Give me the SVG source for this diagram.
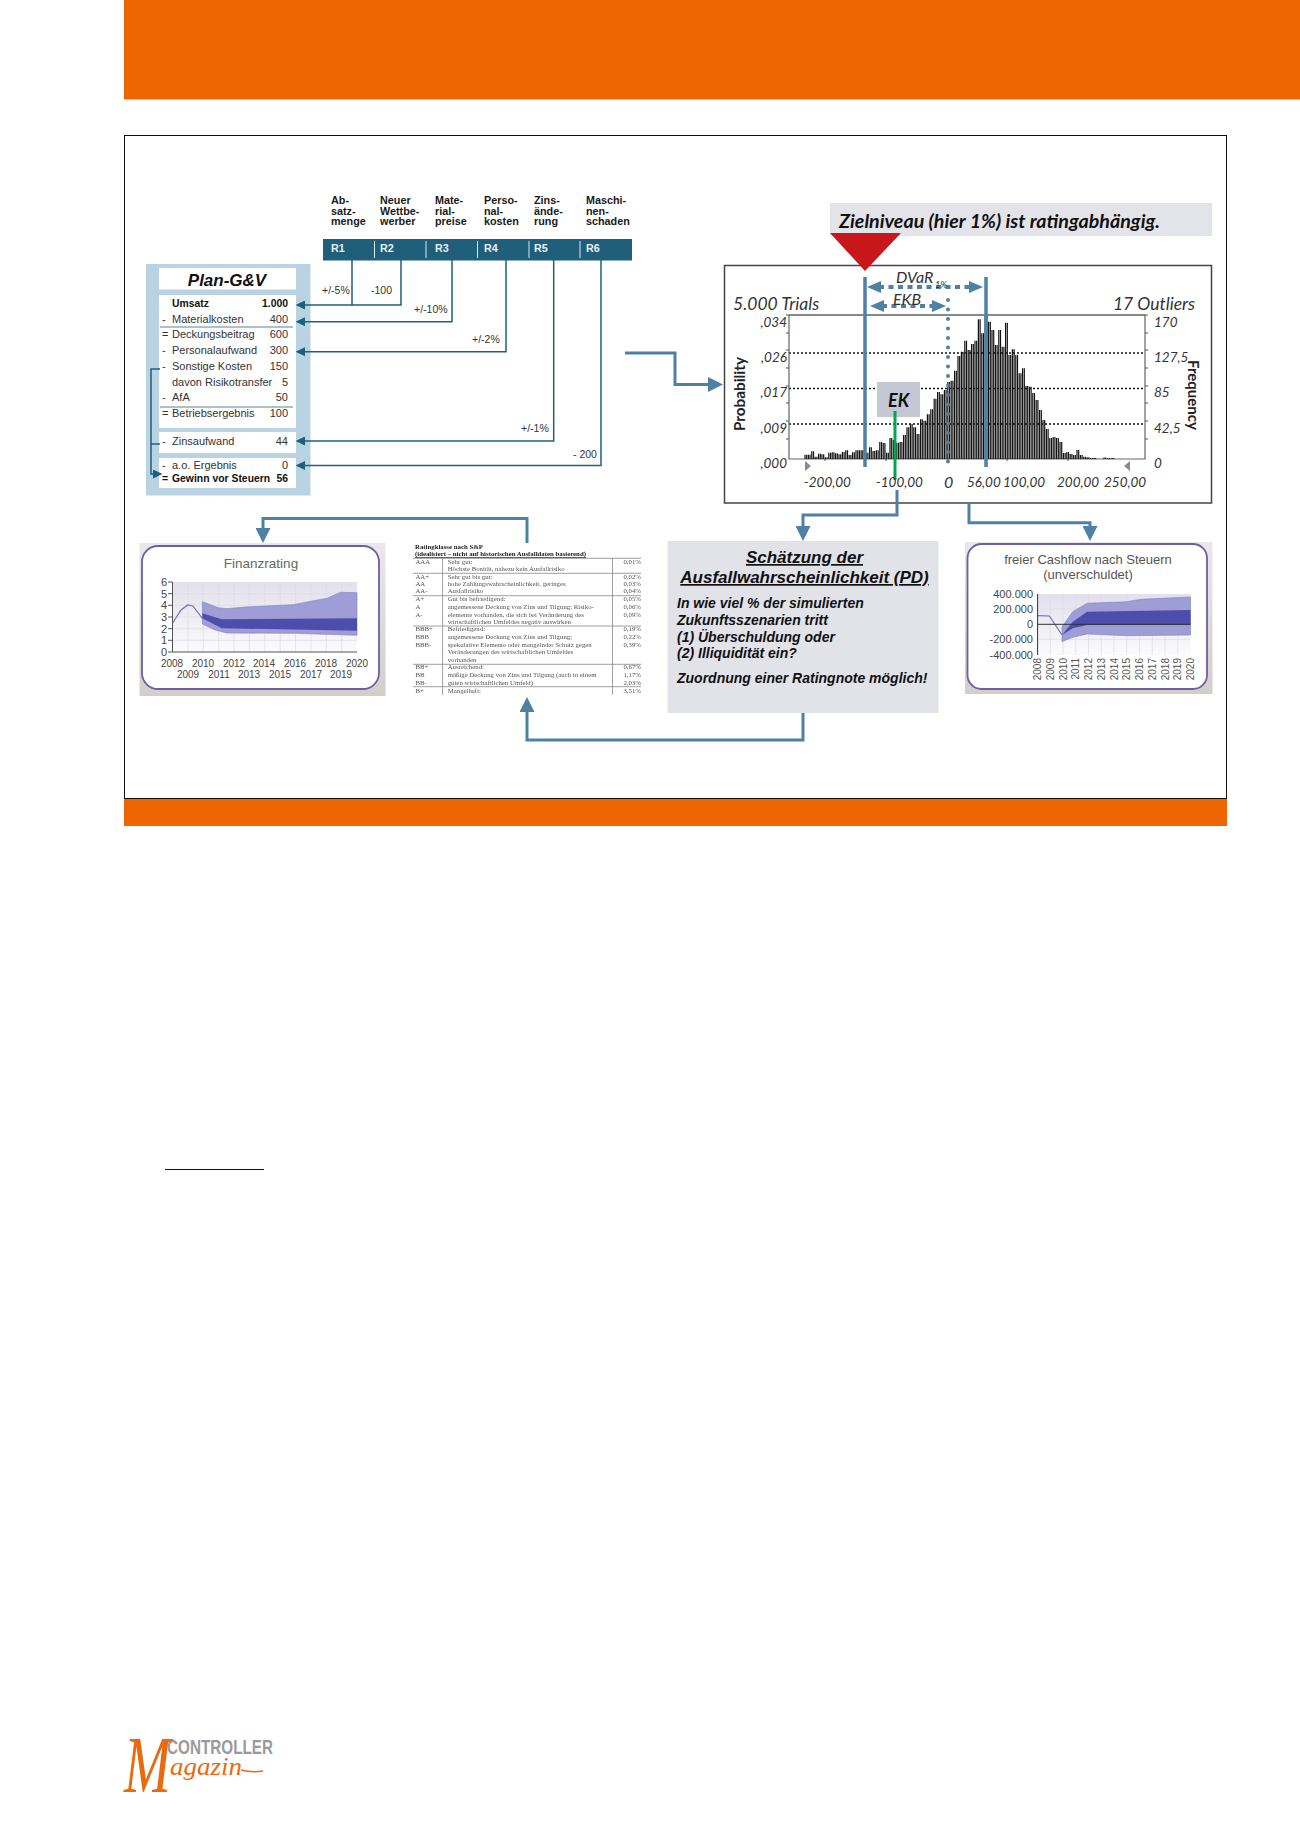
<svg xmlns="http://www.w3.org/2000/svg" xmlns:xlink="http://www.w3.org/1999/xlink" width="1300" height="1839" viewBox="0 0 1300 1839">
<style>
text{font-family:"Liberation Sans",Arial,sans-serif}
text.lt{font-family:Lato,"Liberation Sans",sans-serif}
text.se{font-family:"Liberation Serif",serif}
.hd{font-size:10.8px;font-weight:bold;fill:#1a1a1a}
.r{font-size:10.8px;font-weight:bold;fill:#e8f0f4}
.t{font-size:11px;fill:#333}
.tb{font-size:10.4px;font-weight:bold;fill:#111}
.e{text-anchor:end}
.pct{font-size:10.5px;fill:#333}
.pl{fill:none;stroke:#1f6079;stroke-width:1.5}
.bl{fill:none;stroke:#4f81a5;stroke-width:3}
text.c{font-family:Lato,"Liberation Sans",sans-serif;font-style:italic;fill:#333;font-size:13.5px}
.pd{font-size:14px;font-weight:bold;font-style:italic;fill:#111}
.pdt{font-size:17px;font-weight:bold;font-style:italic;fill:#111;text-anchor:middle;text-decoration:underline}
text.tt{font-family:"Liberation Serif",serif;font-size:6.8px;fill:#555}
text.ttb{font-family:"Liberation Serif",serif;font-size:6.8px;font-weight:bold;fill:#222}
.fa{font-size:10px;fill:#444;text-anchor:middle}
.fy{font-size:11px;fill:#444;text-anchor:end}
.ca{font-size:11px;fill:#444;text-anchor:end}
.cy{font-size:10px;fill:#555;text-anchor:end}
.ct{font-size:13px;fill:#555;text-anchor:middle}
.grid{fill:none;stroke:#dcdbe4;stroke-width:.7}
</style>
<defs>
<marker id="big" markerUnits="userSpaceOnUse" markerWidth="15" markerHeight="15" refX="2" refY="7.5" orient="auto"><path d="M0 0L15 7.5L0 15z" fill="#4f81a5"/></marker>
<marker id="dbl" markerUnits="userSpaceOnUse" markerWidth="14" markerHeight="12" refX="2" refY="6" orient="auto-start-reverse"><path d="M0 0L14 6L0 12z" fill="#4f81a5"/></marker>
<marker id="sm" markerUnits="userSpaceOnUse" markerWidth="10" markerHeight="9" refX="1" refY="4.5" orient="auto"><path d="M0 0L9.5 4.5L0 9z" fill="#1f6079"/></marker>
<linearGradient id="bg" x1="0" y1="0" x2="0" y2="1"><stop offset="0" stop-color="#ebe7ea"/><stop offset="1" stop-color="#d3cec9"/></linearGradient>
<linearGradient id="pb" x1="0" y1="0" x2="0" y2="1"><stop offset="0" stop-color="#e2e0eb"/><stop offset="1" stop-color="#fbfbfd"/></linearGradient>
<filter id="soft" x="-5%" y="-5%" width="110%" height="110%"><feGaussianBlur stdDeviation="0.35"/></filter>
</defs>
<rect width="1300" height="1839" fill="#fff"/>
<g id="page">
<rect x="124" y="0" width="1176" height="99.500" fill="#ee6602"/>
<rect x="124.500" y="135.500" width="1102" height="663" fill="#fff" stroke="#111" stroke-width="1"/>
<rect x="124" y="799" width="1103" height="27" fill="#ee6602"/>
<line x1="165" y1="1169.500" x2="264" y2="1169.500" stroke="#111" stroke-width="1"/>
</g>

<g id="risk-bar">
<rect x="323" y="239" width="309" height="21.500" fill="#1f5f7c"/>
<path d="M374.500 241V258M426 241V258M477.500 241V258M529 241V258M580 241V258" stroke="#dfe9ee" stroke-width="1"/>
<text class="r" x="331" y="252">R1</text><text class="r" x="380" y="252">R2</text><text class="r" x="435" y="252">R3</text><text class="r" x="484" y="252">R4</text><text class="r" x="534" y="252">R5</text><text class="r" x="586" y="252">R6</text>
<text class="hd"><tspan x="331" y="204">Ab-</tspan><tspan x="331" y="215">satz-</tspan><tspan x="331" y="225">menge</tspan></text>
<text class="hd"><tspan x="380" y="204">Neuer</tspan><tspan x="380" y="215">Wettbe-</tspan><tspan x="380" y="225">werber</tspan></text>
<text class="hd"><tspan x="435" y="204">Mate-</tspan><tspan x="435" y="215">rial-</tspan><tspan x="435" y="225">preise</tspan></text>
<text class="hd"><tspan x="484" y="204">Perso-</tspan><tspan x="484" y="215">nal-</tspan><tspan x="484" y="225">kosten</tspan></text>
<text class="hd"><tspan x="534" y="204">Zins-</tspan><tspan x="534" y="215">ände-</tspan><tspan x="534" y="225">rung</tspan></text>
<text class="hd"><tspan x="586" y="204">Maschi-</tspan><tspan x="586" y="215">nen-</tspan><tspan x="586" y="225">schaden</tspan></text>
</g>

<g id="plan-gv">
<rect x="146" y="264" width="164.500" height="231.500" fill="#b9d3e3"/>
<rect x="159" y="268" width="137" height="21.500" fill="#fff"/>
<rect x="159" y="295" width="137" height="133" fill="#fff"/>
<rect x="159" y="432" width="137" height="21" fill="#fff"/>
<rect x="159" y="458" width="137" height="30" fill="#fff"/>
<text x="227" y="286" text-anchor="middle" font-size="17" font-weight="bold" font-style="italic" fill="#111">Plan-G&amp;V</text>
<path d="M160 327H293M160 407H293" stroke="#5a8294" stroke-width="1"/>
<text class="tb" x="172" y="307">Umsatz</text><text class="tb e" x="288" y="307">1.000</text>
<text class="t" x="162" y="323">-</text><text class="t" x="172" y="323">Materialkosten</text><text class="t e" x="288" y="323">400</text>
<text class="t" x="162" y="338">=</text><text class="t" x="172" y="338">Deckungsbeitrag</text><text class="t e" x="288" y="338">600</text>
<text class="t" x="162" y="354">-</text><text class="t" x="172" y="354">Personalaufwand</text><text class="t e" x="288" y="354">300</text>
<text class="t" x="162" y="370">-</text><text class="t" x="172" y="370">Sonstige Kosten</text><text class="t e" x="288" y="370">150</text>
<text class="t" x="172" y="386">davon Risikotransfer</text><text class="t e" x="288" y="386">5</text>
<text class="t" x="162" y="401">-</text><text class="t" x="172" y="401">AfA</text><text class="t e" x="288" y="401">50</text>
<text class="t" x="162" y="417">=</text><text class="t" x="172" y="417">Betriebsergebnis</text><text class="t e" x="288" y="417">100</text>
<text class="t" x="162" y="445">-</text><text class="t" x="172" y="445">Zinsaufwand</text><text class="t e" x="288" y="445">44</text>
<text class="t" x="162" y="469">-</text><text class="t" x="172" y="469">a.o. Ergebnis</text><text class="t e" x="288" y="469">0</text>
<text class="tb" x="162" y="482">=</text><text class="tb" x="172" y="482">Gewinn vor Steuern</text><text class="tb e" x="288" y="482">56</text>
</g>

<g id="chart">
<rect id="ziel" x="830" y="203" width="382" height="33" fill="#e3e4ea"/>
<text class="lt" x="839" y="228" font-size="19.500" font-weight="bold" font-style="italic" fill="#111" textLength="321" lengthAdjust="spacingAndGlyphs">Zielniveau (hier 1%) ist ratingabhängig.</text>
<rect x="724.500" y="265.500" width="487" height="237.500" fill="#fff" stroke="#444" stroke-width="1.500"/>
<path d="M830 233H901L865 271z" fill="#c8171a"/>
<g fill="none" stroke="#111" stroke-width="1.500" stroke-dasharray="2 2"><path d="M789 353H1145M789 388.500H1145M789 424H1145"/></g>
<path d="M789 315H1145" stroke="#111" stroke-width="1"/>
<path d="M789 315V459H1145V315" fill="none" stroke="#666" stroke-width="1.200"/>
<path d="M786 315h3M786 333h3M786 350h3M786 368h3M786 386h3M786 403h3M786 421h3M786 439h3M1145 315h3M1145 333h3M1145 350h3M1145 368h3M1145 386h3M1145 403h3M1145 421h3M1145 439h3M825 459v2M886 459v2M948 459v2M1007 459v2M1068 459v2" stroke="#555" stroke-width="1"/>
<use href="#bars" x="1.700" style="stroke:#b8b8b8;stroke-width:.8"/>
<path id="bars" fill="none" style="stroke:#111;stroke-width:1.200" d="M805 459V454.700M808.400 459V454.700M811.800 459V451.300M815.200 459V456.700M818.600 459V453.700M822 459V454.300M825.400 459V457.300M828.800 459V452.700M832.200 459V452.300M835.600 459V453.300M839 459V454.300M842.400 459V452M845.800 459V450.300M849.200 459V455M852.600 459V452.300M856 459V450.300M859.400 459V450.300M862.800 459V450.300M866.200 459V452.700M869.600 459V447.300M873 459V451M876.400 459V450.300M879.800 459V442M883.200 459V443M886.600 459V452.700M890 459V438M893.400 459V440M896.800 459V442.700M900.200 459V442M903.600 459V435M907 459V427.300M910.400 459V424M913.800 459V427.300M917.200 459V434M920.600 459V419.300M924 459V420.700M927.400 459V414.300M930.800 459V409.300M934.200 459V398.700M937.600 459V392M941 459V394.300M944.400 459V390M947.800 459V382M951.200 459V380.700M954.600 459V370.700M958 459V356M961.400 459V351.700M964.800 459V340.700M968.200 459V350M971.600 459V344M975 459V340.700M978.400 459V319.300M981.800 459V333.300M985.200 459V316M988.600 459V321.700M992 459V330M995.400 459V345M998.800 459V330M1002.200 459V346.700M1005.600 459V322.700M1009 459V355M1012.400 459V349.300M1015.800 459V355M1019.200 459V373.300M1022.600 459V368.300M1026 459V386M1029.400 459V386.700M1032.800 459V393M1036.200 459V400M1039.600 459V410M1043 459V420M1046.400 459V429M1049.800 459V438M1053.200 459V437M1056.600 459V438M1060 459V442M1063.400 459V453M1066.800 459V452M1070.200 459V454M1073.600 459V455M1077 459V450M1080.400 459V455M1083.800 459V456.700M1087.200 459V457.300M1090.600 459V458M1094 459V458M1104 459V457.500M1108 459V458M1112 459V458"/>
<path d="M805 461L811 466L805 471z" fill="#8a8a8a"/>
<path d="M1130 461L1124 466L1130 471z" fill="#8a8a8a"/>
<rect x="877" y="382" width="43" height="35" fill="#c4c8d4"/>
<text class="lt" x="888" y="407" font-size="18" font-weight="bold" font-style="italic" fill="#111">EK</text>
<path d="M895 411V480" stroke="#00a650" stroke-width="3" fill="none"/>
<path d="M865 277V467M986 277V467" stroke="#4f81a5" stroke-width="3.500" fill="none"/>
<path d="M948 300V467" stroke="#4f81a5" stroke-width="4" stroke-linecap="round" stroke-dasharray="0 9.500" fill="none"/>
<path d="M879 287H971" fill="none" stroke="#4f81a5" stroke-width="4" stroke-dasharray="5 4.500" marker-start="url(#dbl)" marker-end="url(#dbl)"/>
<path d="M882 306H934" fill="none" stroke="#4f81a5" stroke-width="4" stroke-dasharray="5 4.500" marker-start="url(#dbl)" marker-end="url(#dbl)"/>
<text class="c" x="896" y="283" style="font-size:16px">DVaR</text><text class="c" x="935" y="288" style="font-size:9px">1%</text>
<text class="c" x="893" y="305" style="font-size:16px">EKB</text>
<text class="c" x="733" y="310" style="font-size:17.500px">5.000 Trials</text>
<text class="c" x="1195" y="310" text-anchor="end" style="font-size:17.500px">17 Outliers</text>
<g class="yl"><text class="c e" x="787" y="327">,034</text><text class="c e" x="787" y="362">,026</text><text class="c e" x="787" y="397">,017</text><text class="c e" x="787" y="433">,009</text><text class="c e" x="787" y="468">,000</text></g>
<text class="c" x="1154" y="327">170</text><text class="c" x="1154" y="362">127,5</text><text class="c" x="1154" y="397">85</text><text class="c" x="1154" y="433">42,5</text><text class="c" x="1154" y="468">0</text>
<text class="c" x="804" y="487">-200,00</text><text class="c" x="876" y="487">-100,00</text><text class="c" x="944" y="488" style="font-size:16px">0</text><text class="c" x="967" y="487">56,00</text><text class="c" x="1003" y="487">100,00</text><text class="c" x="1057" y="487">200,00</text><text class="c" x="1104" y="487">250,00</text>
<text class="lt" transform="translate(745 394) rotate(-90)" text-anchor="middle" font-size="15" font-weight="bold" fill="#222" textLength="74" lengthAdjust="spacingAndGlyphs">Probability</text>
<text class="lt" transform="translate(1188 395) rotate(90)" text-anchor="middle" font-size="15" font-weight="bold" fill="#222" textLength="70" lengthAdjust="spacingAndGlyphs">Frequency</text>
</g>

<g id="finanzrating">
<rect x="139.500" y="543" width="246" height="153" fill="url(#bg)"/>
<rect x="142" y="546" width="237" height="143" rx="16" fill="#fff" stroke="#6b5fa5" stroke-width="1.800"/>
<text x="261" y="568" text-anchor="middle" font-size="13.500" fill="#666">Finanzrating</text>
<rect x="172.500" y="582" width="184.500" height="70" fill="url(#pb)"/>
<path class="grid" d="M172.500 593.700H357M172.500 605.300H357M172.500 617H357M172.500 628.700H357M172.500 640.300H357M188 582V652M203.300 582V652M218.700 582V652M234 582V652M249.400 582V652M264.800 582V652M280.200 582V652M295.500 582V652M311 582V652M326.300 582V652M341.700 582V652"/>
<path d="M202.400 601.700L218.300 607.700L226.800 608.700L245.500 607L293.100 604.700L313.500 600.700L327.100 598.300L340.700 592.300L357 592.700V635.300L293.100 633.300L226.800 633L215 630L202.400 624z" fill="#9e9dd6" stroke="#7f7ec2" stroke-width=".6"/>
<path d="M202.400 613.300L221.700 619.300L357 618.300V630.700L221.700 628.300L202.400 618.300z" fill="#4d4dab"/>
<path d="M172.500 623.300L181 610L187.800 605L192.900 606L202.400 618.300" fill="none" stroke="#7a6fb5" stroke-width="1.200"/>
<path d="M172.500 582V652H357M168 582h4.500M168 593.700h4.500M168 605.300h4.500M168 617h4.500M168 628.700h4.500M168 640.300h4.500M168 652h4.500" fill="none" stroke="#555" stroke-width="1"/>
<text class="fy" x="167" y="586">6</text><text class="fy" x="167" y="597.700">5</text><text class="fy" x="167" y="609.300">4</text><text class="fy" x="167" y="621">3</text><text class="fy" x="167" y="632.700">2</text><text class="fy" x="167" y="644.300">1</text><text class="fy" x="167" y="655.500">0</text>
<text class="fa" x="172" y="667">2008</text><text class="fa" x="203" y="667">2010</text><text class="fa" x="234" y="667">2012</text><text class="fa" x="264" y="667">2014</text><text class="fa" x="295" y="667">2016</text><text class="fa" x="326" y="667">2018</text><text class="fa" x="357" y="667">2020</text>
<text class="fa" x="188" y="678">2009</text><text class="fa" x="219" y="678">2011</text><text class="fa" x="249" y="678">2013</text><text class="fa" x="280" y="678">2015</text><text class="fa" x="311" y="678">2017</text><text class="fa" x="341" y="678">2019</text>
</g>

<g id="rating-table">
<path d="M413 558.300H641M413 573.300H641M413 595.700H641M413 626H641M413 664.300H641M413 686.700H641M442.600 558V695M612.500 558V695" fill="none" stroke="#888" stroke-width=".8"/>
<g filter="url(#soft)">
<text class="ttb" x="415" y="549">Ratingklasse nach S&amp;P</text>
<text class="ttb" x="415" y="556" text-decoration="underline">(idealisiert – nicht auf historischen Ausfalldaten basierend)</text>
<text class="tt" x="415.400" y="564">AAA</text><text class="tt" x="447.700" y="564">Sehr gut:</text><text class="tt" x="623.400" y="564">0,01%</text>
<text class="tt" x="447.700" y="571.300">Höchste Bonität, nahezu kein Ausfallrisiko</text>
<text class="tt" x="415.400" y="579">AA+</text><text class="tt" x="447.700" y="579">Sehr gut bis gut:</text><text class="tt" x="623.400" y="579">0,02%</text>
<text class="tt" x="415.400" y="586">AA</text><text class="tt" x="447.700" y="586">hohe Zahlungswahrscheinlichkeit, geringes</text><text class="tt" x="623.400" y="586">0,03%</text>
<text class="tt" x="415.400" y="593.300">AA-</text><text class="tt" x="447.700" y="593.300">Ausfallrisiko</text><text class="tt" x="623.400" y="593.300">0,04%</text>
<text class="tt" x="415.400" y="601">A+</text><text class="tt" x="447.700" y="601">Gut bis befriedigend:</text><text class="tt" x="623.400" y="601">0,05%</text>
<text class="tt" x="415.400" y="609">A</text><text class="tt" x="447.700" y="609">angemessene Deckung von Zins und Tilgung; Risiko-</text><text class="tt" x="623.400" y="609">0,06%</text>
<text class="tt" x="415.400" y="616.700">A-</text><text class="tt" x="447.700" y="616.700">elemente vorhanden, die sich bei Veränderung des</text><text class="tt" x="623.400" y="616.700">0,09%</text>
<text class="tt" x="447.700" y="624">wirtschaftlichen Umfeldes negativ auswirken</text>
<text class="tt" x="415.400" y="631">BBB+</text><text class="tt" x="447.700" y="631">Befriedigend:</text><text class="tt" x="623.400" y="631">0,19%</text>
<text class="tt" x="415.400" y="639.300">BBB</text><text class="tt" x="447.700" y="639.300">angemessene Deckung von Zins und Tilgung;</text><text class="tt" x="623.400" y="639.300">0,22%</text>
<text class="tt" x="415.400" y="646.700">BBB-</text><text class="tt" x="447.700" y="646.700">spekulative Elemente oder mangelnder Schutz gegen</text><text class="tt" x="623.400" y="646.700">0,39%</text>
<text class="tt" x="447.700" y="654.300">Veränderungen des wirtschaftlichen Umfeldes</text>
<text class="tt" x="447.700" y="662">vorhanden</text>
<text class="tt" x="415.400" y="669">BB+</text><text class="tt" x="447.700" y="669">Ausreichend:</text><text class="tt" x="623.400" y="669">0,67%</text>
<text class="tt" x="415.400" y="677.300">BB</text><text class="tt" x="447.700" y="677.300">mäßige Deckung von Zins und Tilgung (auch in einem</text><text class="tt" x="623.400" y="677.300">1,17%</text>
<text class="tt" x="415.400" y="684.700">BB-</text><text class="tt" x="447.700" y="684.700">guten wirtschaftlichen Umfeld)</text><text class="tt" x="623.400" y="684.700">2,03%</text>
<text class="tt" x="415.400" y="692.700">B+</text><text class="tt" x="447.700" y="692.700">Mangelhaft:</text><text class="tt" x="623.400" y="692.700">3,51%</text>
</g>
</g>

<g id="pd-box">
<rect x="667.500" y="541" width="271" height="172" fill="#e2e3e9"/>
<text class="pdt" x="804.500" y="563">Schätzung der</text>
<text class="pdt" x="804.500" y="583">Ausfallwahrscheinlichkeit (PD)</text>
<text class="pd" x="677" y="608">In wie viel % der simulierten</text>
<text class="pd" x="677" y="625">Zukunftsszenarien tritt</text>
<text class="pd" x="677" y="642">(1) Überschuldung oder</text>
<text class="pd" x="677" y="658">(2) Illiquidität ein?</text>
<text class="pd" x="677" y="683">Zuordnung einer Ratingnote möglich!</text>
</g>

<g id="cashflow">
<rect x="965" y="542" width="247.500" height="152" fill="url(#bg)"/>
<rect x="967.500" y="544" width="239.500" height="145" rx="14" fill="#fff" stroke="#6b5fa5" stroke-width="1.800"/>
<text class="ct" x="1088" y="564">freier Cashflow nach Steuern</text>
<text class="ct" x="1088" y="579">(unverschuldet)</text>
<rect x="1037.600" y="594" width="153" height="61" fill="url(#pb)"/>
<path class="grid" d="M1037.600 609H1190.500M1037.600 639.300H1190.500M1050.300 594V655M1063 594V655M1075.800 594V655M1088.500 594V655M1101.300 594V655M1114 594V655M1126.800 594V655M1139.500 594V655M1152.300 594V655M1165 594V655M1177.800 594V655"/>
<path d="M1062 626.700L1072.800 611.700L1087.100 603.300L1126.600 601.700L1141 599.300L1190.500 597V635L1126.600 635.700L1087.100 634L1072.800 637.300L1062 641.700z" fill="#9e9dd6" stroke="#7f7ec2" stroke-width=".6"/>
<path d="M1062 635L1072.800 621.700L1087.100 611.700L1190.500 610V625L1087.100 625L1072.800 628.300z" fill="#4d4dab"/>
<path d="M1037.600 615.700L1049.400 616L1062 635" fill="none" stroke="#7a6fb5" stroke-width="1.200"/>
<path d="M1037.600 594V655M1037.600 624.300H1190.500" fill="none" stroke="#333" stroke-width="1"/>
<text class="ca" x="1033" y="598">400.000</text><text class="ca" x="1033" y="613">200.000</text><text class="ca" x="1033" y="628">0</text><text class="ca" x="1033" y="643">-200.000</text><text class="ca" x="1033" y="659">-400.000</text>
<text class="cy" transform="translate(1041 658) rotate(-90)">2008</text><text class="cy" transform="translate(1053.700 658) rotate(-90)">2009</text><text class="cy" transform="translate(1066.500 658) rotate(-90)">2010</text><text class="cy" transform="translate(1079.200 658) rotate(-90)">2011</text><text class="cy" transform="translate(1092 658) rotate(-90)">2012</text><text class="cy" transform="translate(1104.700 658) rotate(-90)">2013</text><text class="cy" transform="translate(1117.500 658) rotate(-90)">2014</text><text class="cy" transform="translate(1130.200 658) rotate(-90)">2015</text><text class="cy" transform="translate(1143 658) rotate(-90)">2016</text><text class="cy" transform="translate(1155.700 658) rotate(-90)">2017</text><text class="cy" transform="translate(1168.500 658) rotate(-90)">2018</text><text class="cy" transform="translate(1181.200 658) rotate(-90)">2019</text><text class="cy" transform="translate(1194 658) rotate(-90)">2020</text>
</g>

<g id="connectors">
<path class="pl" d="M352 260V305H304" marker-end="url(#sm)"/>
<path class="pl" d="M401 260V305H352"/>
<path class="pl" d="M452 260V321.700H304" marker-end="url(#sm)"/>
<path class="pl" d="M506 260V351.700H304" marker-end="url(#sm)"/>
<path class="pl" d="M553.700 260V441H304" marker-end="url(#sm)"/>
<path class="pl" d="M601 260V465.500H304" marker-end="url(#sm)"/>
<path class="pl" d="M160 369H151V474H154" marker-end="url(#sm)"/>
<path class="pl" d="M151 444H160"/>
<path class="bl" d="M625 353H675V384.500H710" marker-end="url(#big)"/>
<path class="bl" d="M527 543V518.500H263V530" marker-end="url(#big)"/>
<path class="bl" d="M897 490V515H803V528" marker-end="url(#big)"/>
<path class="bl" d="M969 503V522.700H1090V528" marker-end="url(#big)"/>
<path class="bl" d="M803 713V740H527V710" marker-end="url(#big)"/>
<text class="pct" x="322" y="294">+/-5%</text>
<text class="pct" x="371" y="294">-100</text>
<text class="pct" x="414" y="313">+/-10%</text>
<text class="pct" x="472" y="343">+/-2%</text>
<text class="pct" x="521" y="432">+/-1%</text>
<text class="pct" x="573" y="458">- 200</text>
</g>

<g id="logo">
<text x="167" y="1754" font-size="21" font-weight="bold" fill="#9a9a9e" textLength="106" lengthAdjust="spacingAndGlyphs">CONTROLLER</text>
<text class="se" transform="translate(124 1792) scale(1 1.45)" font-style="italic" font-size="56" fill="#ea6a10">M</text>
<text class="se" x="170" y="1775" font-style="italic" font-size="25" fill="#ea6a10" textLength="72" lengthAdjust="spacingAndGlyphs">agazin</text>
<path d="M241 1770Q252 1773 263 1771" fill="none" stroke="#ea6a10" stroke-width="1.500"/>
</g>
</svg>
